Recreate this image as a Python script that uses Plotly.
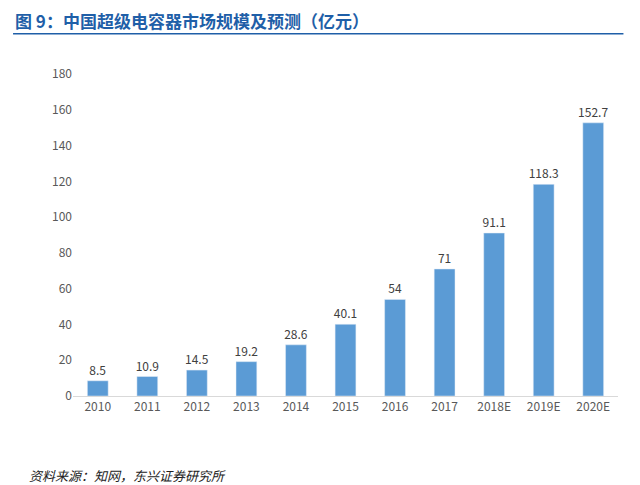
import plotly.graph_objects as go

years = ["2010","2011","2012","2013","2014","2015","2016","2017","2018E","2019E","2020E"]
values = [8.5,10.9,14.5,19.2,28.6,40.1,54,71,91.1,118.3,152.7]
labels = ["8.5","10.9","14.5","19.2","28.6","40.1","54","71","91.1","118.3","152.7"]

fig = go.Figure(go.Bar(x=years, y=values, text=labels, textposition="outside",
                       marker_color="#5B9BD5", width=0.42,
                       textfont=dict(size=12, color="#404040", family="Noto Sans CJK SC"),
                       cliponaxis=False))
fig.update_layout(
    width=640, height=485, plot_bgcolor="white", paper_bgcolor="white",
    margin=dict(l=65, r=30, t=66, b=97), showlegend=False,
    uniformtext=dict(minsize=12, mode="show"),
    font=dict(family="Noto Sans CJK SC", color="#595959", size=12),
    yaxis=dict(range=[0,180], dtick=20, showgrid=False, zeroline=False, ticks="",
               tickfont=dict(size=12, color="#595959")),
    xaxis=dict(showline=True, linecolor="#D9D9D9", linewidth=1, ticks="",
               tickfont=dict(size=12, color="#595959")),
    annotations=[
        dict(text="<b>图 9：中国超级电容器市场规模及预测（亿元）</b>", x=-0.11, y=1.21,
             xref="paper", yref="paper", xanchor="left", yanchor="top", showarrow=False,
             font=dict(size=17, color="#1F5FA8", family="Noto Sans CJK SC")),
        dict(text="<i>资料来源：知网，东兴证券研究所</i>", x=-0.085, y=-0.248,
             xref="paper", yref="paper", xanchor="left", yanchor="middle", showarrow=False,
             font=dict(size=13, color="#222222", family="Noto Sans CJK SC")),
    ],
    shapes=[dict(type="line", xref="paper", yref="paper", x0=-0.11, x1=1.01,
                 y0=1.125, y1=1.125, line=dict(color="#1F5FA8", width=1.5))],
)
fig.write_html("out.html")
